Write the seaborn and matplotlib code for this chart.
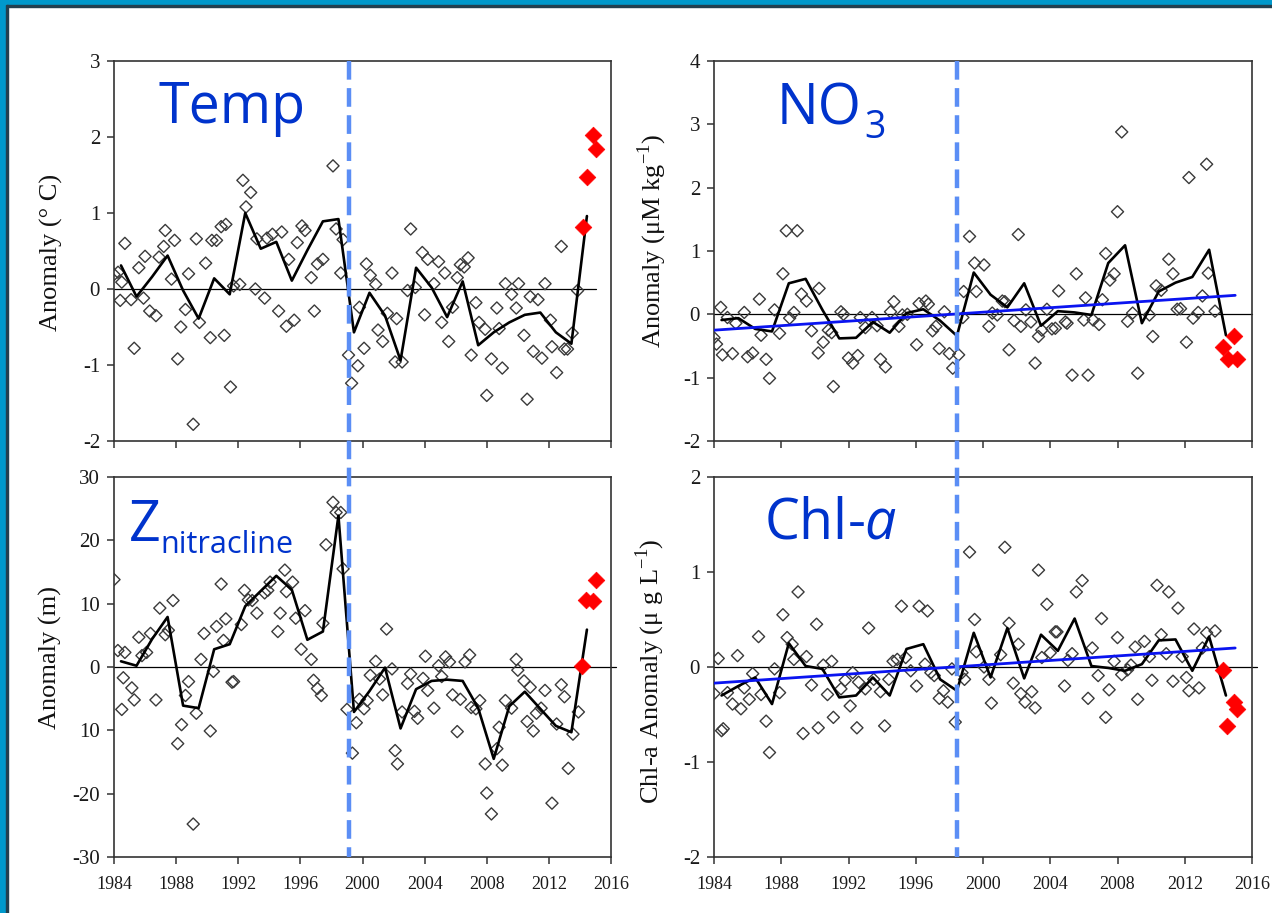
import matplotlib
matplotlib.use("Agg")
import matplotlib.pyplot as plt
import matplotlib.transforms as mtransforms
from matplotlib.lines import Line2D
from matplotlib.patches import Rectangle
import seaborn as sns

# ---------------- data ----------------
years = list(range(1984, 2015))
xticks = list(range(1984, 2017, 4))

# Temperature
temp_annual = [0.31, -0.10, 0.16, 0.44, -0.02, -0.39, 0.14, -0.07, 1.00, 0.53, 0.62, 0.11, 0.51, 0.89, 0.92,
               -0.57, -0.05, -0.35, -0.94, 0.28, 0.02, -0.37, 0.10, -0.74, -0.57, -0.44, -0.34, -0.31, -0.57, -0.72, 0.96]
temp_x = [1984.0, 1984.26, 1984.4, 1984.5, 1984.7, 1985.1, 1985.3, 1985.6, 1985.9, 1986.0,
          1986.3, 1986.7, 1986.9, 1987.2, 1987.3, 1987.7, 1987.9, 1988.1, 1988.3, 1988.6,
          1988.8, 1989.1, 1989.3, 1989.5, 1989.9, 1990.2, 1990.3, 1990.6, 1990.9, 1991.1,
          1991.2, 1991.5, 1991.7, 1992.1, 1992.3, 1992.5, 1992.8, 1993.1, 1993.2, 1993.7,
          1993.85, 1994.2, 1994.6, 1994.8, 1995.1, 1995.25, 1995.6, 1995.8, 1996.1, 1996.3,
          1996.7, 1996.9, 1997.1, 1997.45, 1998.1, 1998.3, 1998.6, 1998.75, 1999.1, 1999.3,
          1999.7, 1999.8, 2000.1, 2000.25, 2000.5, 2000.85, 2001.0, 2001.3, 2001.6, 2001.9,
          2002.1, 2002.2, 2002.55, 2002.9, 2003.1, 2003.4, 2003.85, 2004.0, 2004.2, 2004.6,
          2004.9, 2005.1, 2005.3, 2005.55, 2005.8, 2006.1, 2006.3, 2006.55, 2006.8, 2007.0,
          2007.3, 2007.5, 2007.9, 2008.0, 2008.3, 2008.65, 2008.8, 2009.0, 2009.2, 2009.6,
          2009.9, 2010.05, 2010.4, 2010.6, 2010.8, 2011.0, 2011.3, 2011.55, 2011.75, 2012.1,
          2012.2, 2012.5, 2012.8, 2013.0, 2013.2, 2013.5, 2013.85]
temp_y = [0.19, 0.22, -0.15, 0.09, 0.60, -0.14, -0.78, 0.28, -0.12, 0.43,
          -0.29, -0.35, 0.42, 0.56, 0.77, 0.13, 0.64, -0.92, -0.50, -0.27,
          0.20, -1.78, 0.66, -0.44, 0.34, -0.64, 0.64, 0.64, 0.82, -0.61,
          0.85, -1.29, 0.04, 0.06, 1.43, 1.08, 1.27, 0.00, 0.66, -0.12,
          0.67, 0.72, -0.29, 0.75, -0.49, 0.39, -0.41, 0.61, 0.83, 0.77,
          0.15, -0.29, 0.33, 0.39, 1.62, 0.79, 0.21, 0.65, -0.87, -1.24,
          -1.01, -0.24, -0.78, 0.33, 0.18, 0.06, -0.54, -0.69, -0.32, 0.21,
          -0.96, -0.39, -0.96, -0.02, 0.79, 0.02, 0.48, -0.34, 0.39, 0.07,
          0.36, -0.44, 0.21, -0.69, -0.24, 0.15, 0.32, 0.29, 0.41, -0.87,
          -0.18, -0.44, -0.53, -1.40, -0.92, -0.25, -0.52, -1.04, 0.07, -0.07,
          -0.25, 0.07, -0.61, -1.45, -0.10, -0.82, -0.14, -0.91, 0.07, -0.41,
          -0.76, -1.10, 0.56, -0.79, -0.79, -0.58, -0.02]
temp_red_x = [2014.17, 2014.45, 2014.85, 2015.03]
temp_red_y = [0.81, 1.47, 2.03, 1.84]
temp_yticks = [-2, -1, 0, 1, 2, 3]
temp_yticklabels = ["-2", "-1", "0", "1", "2", "3"]

# Nitrate
no3_annual = [-0.09, -0.06, -0.23, -0.27, 0.49, 0.56, 0.07, -0.38, -0.37, -0.12, -0.29, 0.02, 0.08, -0.10, -0.34,
              0.66, 0.31, 0.11, 0.49, -0.18, 0.05, 0.03, -0.01, 0.81, 1.09, -0.14, 0.36, 0.50, 0.59, 1.02, -0.33]
no3_x = [1984.0, 1984.15, 1984.4, 1984.5, 1984.8, 1985.1, 1985.3, 1985.8, 1986.0, 1986.3,
         1986.7, 1986.8, 1987.1, 1987.3, 1987.6, 1987.9, 1988.1, 1988.3, 1988.5, 1988.75,
         1988.95, 1989.2, 1989.5, 1989.8, 1990.2, 1990.25, 1990.5, 1990.8, 1991.0, 1991.1,
         1991.55, 1991.7, 1992.0, 1992.25, 1992.55, 1992.7, 1993.0, 1993.4, 1993.7, 1993.9,
         1994.2, 1994.5, 1994.7, 1995.0, 1995.2, 1995.5, 1996.05, 1996.2, 1996.6, 1996.75,
         1997.0, 1997.2, 1997.4, 1997.7, 1998.0, 1998.2, 1998.55, 1998.8, 1998.85, 1999.2,
         1999.5, 1999.6, 2000.06, 2000.35, 2000.55, 2000.85, 2001.15, 2001.3, 2001.55, 2001.85,
         2002.1, 2002.25, 2002.55, 2002.85, 2003.1, 2003.3, 2003.5, 2003.8, 2004.1, 2004.3,
         2004.5, 2004.9, 2005.0, 2005.3, 2005.55, 2006.0, 2006.1, 2006.25, 2006.55, 2006.9,
         2007.1, 2007.3, 2007.55, 2007.8, 2008.0, 2008.25, 2008.6, 2008.9, 2009.2, 2009.9,
         2010.1, 2010.3, 2010.6, 2011.05, 2011.3, 2011.55, 2011.75, 2012.1, 2012.25, 2012.5,
         2012.8, 2013.05, 2013.3, 2013.4, 2013.8]
no3_y = [-0.37, -0.47, 0.11, -0.64, -0.05, -0.62, -0.14, 0.03, -0.67, -0.61,
         0.24, -0.33, -0.71, -1.01, 0.07, -0.30, 0.64, 1.32, -0.06, 0.03,
         1.32, 0.32, 0.21, -0.26, -0.61, 0.41, -0.44, -0.25, -0.29, -1.14,
         0.04, 0.00, -0.69, -0.77, -0.65, -0.05, -0.21, -0.05, -0.18, -0.71,
         -0.83, 0.04, 0.20, -0.19, -0.01, 0.00, -0.48, 0.17, 0.21, 0.16,
         -0.26, -0.19, -0.54, 0.04, -0.62, -0.85, -0.64, -0.05, 0.36, 1.23,
         0.81, 0.36, 0.78, -0.19, 0.02, -0.01, 0.21, 0.20, -0.56, -0.10,
         1.26, -0.19, 0.07, -0.12, -0.77, -0.35, -0.25, 0.08, -0.23, -0.22,
         0.37, -0.12, -0.14, -0.96, 0.64, -0.09, 0.26, -0.96, -0.09, -0.16,
         0.23, 0.96, 0.54, 0.64, 1.62, 2.88, -0.11, 0.02, -0.93, -0.01,
         -0.35, 0.45, 0.38, 0.87, 0.64, 0.08, 0.09, -0.44, 2.16, -0.06,
         0.03, 0.29, 2.37, 0.65, 0.05]
no3_red_x = [2014.3, 2014.55, 2014.9, 2015.1]
no3_red_y = [-0.51, -0.71, -0.34, -0.71]
no3_trend_x = [1984.0, 2015.0]
no3_trend_y = [-0.25, 0.30]
no3_yticks = [-2, -1, 0, 1, 2, 3, 4]
no3_yticklabels = ["-2", "-1", "0", "1", "2", "3", "4"]

# Nitracline depth
z_annual = [0.9, 0.2, 4.4, 7.9, -6.1, -6.5, 2.8, 3.6, 9.6, 12.0, 14.4, 12.2, 4.3, 5.6, 23.9,
            -7.1, -3.8, -0.1, -9.7, -3.5, -2.2, -2.0, -2.2, -6.5, -14.5, -6.2, -3.9, -6.6, -9.3, -10.3, 5.9]
z_x = [1984.0, 1984.25, 1984.5, 1984.6, 1984.7, 1985.15, 1985.3, 1985.6, 1985.8, 1986.1,
       1986.35, 1986.7, 1986.95, 1987.3, 1987.5, 1987.8, 1988.1, 1988.35, 1988.6, 1988.8,
       1989.1, 1989.3, 1989.6, 1989.8, 1990.2, 1990.4, 1990.6, 1990.9, 1991.05, 1991.2,
       1991.6, 1991.7, 1992.2, 1992.4, 1992.65, 1992.9, 1993.2, 1993.7, 1993.9, 1994.05,
       1994.55, 1994.7, 1995.0, 1995.1, 1995.5, 1995.7, 1996.05, 1996.3, 1996.7, 1996.85,
       1997.1, 1997.35, 1997.45, 1997.65, 1998.1, 1998.3, 1998.6, 1998.75, 1999.0, 1999.35,
       1999.6, 1999.8, 2000.1, 2000.3, 2000.5, 2000.85, 2001.1, 2001.3, 2001.55, 2001.9,
       2002.1, 2002.25, 2002.55, 2002.9, 2003.1, 2003.35, 2003.55, 2003.9, 2004.05, 2004.2,
       2004.6, 2004.9, 2005.1, 2005.35, 2005.6, 2005.8, 2006.1, 2006.3, 2006.6, 2006.9,
       2007.0, 2007.3, 2007.55, 2007.9, 2008.0, 2008.3, 2008.65, 2008.8, 2009.0, 2009.2,
       2009.6, 2009.9, 2010.0, 2010.4, 2010.6, 2010.8, 2011.0, 2011.2, 2011.5, 2011.75,
       2012.2, 2012.5, 2012.8, 2013.0, 2013.25, 2013.55, 2013.9]
z_y = [13.8, 2.6, -6.7, -1.7, 2.3, -3.3, -5.2, 4.7, 1.8, 2.3,
       5.3, -5.2, 9.3, 5.1, 5.8, 10.5, -12.1, -9.1, -4.5, -2.3,
       -24.8, -7.3, 1.2, 5.3, -10.1, -0.7, 6.4, 13.1, 4.2, 7.6,
       -2.4, -2.3, 6.7, 12.1, 10.6, 10.5, 8.5, 11.7, 12.1, 13.4,
       5.6, 8.5, 15.3, 11.9, 13.4, 7.7, 2.8, 8.9, 1.2, -2.1,
       -3.4, -4.5, 6.9, 19.3, 26.0, 24.4, 24.4, 15.5, -6.7, -13.6,
       -8.8, -5.1, -6.6, -5.3, -1.3, 0.9, -1.9, -4.4, 6.0, -0.3,
       -13.2, -15.3, -7.1, -2.6, -1.1, -7.0, -8.1, -1.8, 1.7, -3.7,
       -6.5, 0.2, -1.5, 1.6, 0.8, -4.4, -10.2, -5.1, 0.8, 1.9,
       -6.4, -6.6, -5.3, -15.3, -19.9, -23.2, -12.9, -9.5, -15.5, -5.3,
       -6.5, 1.2, -0.5, -2.2, -8.6, -3.2, -10.1, -7.3, -6.5, -3.7,
       -21.5, -9.0, -2.8, -4.7, -16.0, -10.6, -7.1]
z_red_x = [2014.15, 2014.4, 2014.85, 2015.05]
z_red_y = [0.1, 10.6, 10.4, 13.8]
z_yticks = [-30, -20, -10, 0, 10, 20, 30]
z_yticklabels = ["-30", "-20", "10", "0", "10", "20", "30"]

# Chlorophyll-a
chl_annual = [-0.30, -0.20, -0.11, -0.39, 0.25, 0.01, -0.02, -0.32, -0.30, -0.11, -0.30, 0.19, 0.24, -0.13, -0.25,
              0.36, -0.11, 0.41, -0.12, 0.34, 0.17, 0.51, 0.01, -0.01, -0.04, 0.03, 0.28, 0.29, -0.04, 0.32, -0.30]
chl_x = [1984.0, 1984.25, 1984.45, 1984.55, 1984.8, 1985.1, 1985.4, 1985.6, 1985.8, 1986.1,
         1986.3, 1986.65, 1986.8, 1987.1, 1987.3, 1987.6, 1987.9, 1988.1, 1988.35, 1988.65,
         1988.75, 1989.0, 1989.3, 1989.5, 1989.8, 1990.1, 1990.2, 1990.5, 1990.75, 1991.0,
         1991.1, 1991.55, 1991.8, 1992.1, 1992.25, 1992.5, 1992.6, 1993.0, 1993.2, 1993.5,
         1993.9, 1994.15, 1994.4, 1994.65, 1994.9, 1995.15, 1995.4, 1995.7, 1996.05, 1996.2,
         1996.55, 1996.7, 1996.9, 1997.1, 1997.4, 1997.65, 1997.9, 1998.15, 1998.35, 1998.75,
         1998.9, 1999.2, 1999.5, 1999.6, 2000.06, 2000.35, 2000.5, 2001.05, 2001.3, 2001.55,
         2001.8, 2002.1, 2002.25, 2002.5, 2002.9, 2003.1, 2003.3, 2003.5, 2003.8, 2004.0,
         2004.3, 2004.4, 2004.85, 2005.05, 2005.3, 2005.55, 2005.9, 2006.25, 2006.5, 2006.85,
         2007.05, 2007.3, 2007.5, 2007.8, 2008.0, 2008.25, 2008.6, 2008.8, 2009.05, 2009.2,
         2009.6, 2009.9, 2010.05, 2010.35, 2010.6, 2010.9, 2011.05, 2011.3, 2011.6, 2011.85,
         2012.1, 2012.25, 2012.55, 2012.85, 2013.05, 2013.3, 2013.8]
chl_y = [-0.28, 0.09, -0.67, -0.65, -0.27, -0.39, 0.12, -0.44, -0.22, -0.34,
         -0.07, 0.32, -0.29, -0.57, -0.90, -0.02, -0.27, 0.55, 0.31, 0.24,
         0.08, 0.79, -0.70, 0.11, -0.19, 0.45, -0.64, 0.02, -0.29, 0.06,
         -0.53, -0.23, -0.14, -0.41, -0.06, -0.64, -0.16, -0.23, 0.41, -0.13,
         -0.26, -0.62, -0.13, 0.06, 0.08, 0.64, 0.10, -0.04, -0.20, 0.64,
         0.03, 0.59, -0.06, -0.09, -0.33, -0.25, -0.37, -0.02, -0.58, -0.06,
         -0.13, 1.21, 0.50, 0.16, 0.00, -0.13, -0.38, 0.13, 1.26, 0.46,
         -0.17, 0.24, -0.28, -0.37, -0.26, -0.43, 1.02, 0.10, 0.66, 0.15,
         0.37, 0.37, -0.20, 0.07, 0.14, 0.79, 0.91, -0.33, 0.20, -0.09,
         0.51, -0.53, -0.24, 0.06, 0.31, -0.08, -0.03, 0.02, 0.21, -0.34,
         0.27, 0.11, -0.14, 0.86, 0.34, 0.14, 0.79, -0.15, 0.62, 0.11,
         -0.11, -0.25, 0.40, -0.22, 0.20, 0.36, 0.38]
chl_red_x = [2014.3, 2014.5, 2014.9, 2015.1]
chl_red_y = [-0.03, -0.62, -0.37, -0.44]
chl_trend_x = [1984.0, 2015.0]
chl_trend_y = [-0.17, 0.20]
chl_yticks = [-2, -1, 0, 1, 2]
chl_yticklabels = ["-2", "-1", "0", "1", "2"]

# regime shift year (vertical dashed line) for each column
shift_left = 1999.15
shift_right = 1998.45

# ---------------- style ----------------
sns.set_style("ticks")
plt.rcParams["font.family"] = ["Liberation Serif", "DejaVu Serif"]
plt.rcParams["axes.unicode_minus"] = False
plt.rcParams["mathtext.fontset"] = "custom"
plt.rcParams["mathtext.rm"] = "Open Sans"
plt.rcParams["mathtext.it"] = "Open Sans:italic"

W, H = 1272, 913
fig = plt.figure(figsize=(W / 100, H / 100), dpi=100)
fig.patch.set_facecolor("white")

# slide frame
fig.patches.append(Rectangle((0, 1 - 5.5 / H), 1, 5.5 / H, transform=fig.transFigure,
                             color="#0099CC", zorder=0))
fig.patches.append(Rectangle((0, 1 - 7 / H), 1, 1.5 / H, transform=fig.transFigure,
                             color="#23404F", zorder=0))
fig.patches.append(Rectangle((0, 0), 6 / W, 1, transform=fig.transFigure,
                             color="#0099CC", zorder=0))
fig.patches.append(Rectangle((6 / W, 0), 1.5 / W, 1 - 5.5 / H, transform=fig.transFigure,
                             color="#23404F", zorder=0))


def rect(l, t, r, b):
    return [l / W, 1 - b / H, (r - l) / W, (b - t) / H]


ann_x = [y + 0.45 for y in years]

TITLE_FONT = ["Open Sans", "DejaVu Sans"]

panels = [
    dict(rect=rect(114, 61, 611, 441), annual=temp_annual, sx=temp_x, sy=temp_y,
         rx=temp_red_x, ry=temp_red_y, trend=None, ylim=(-2, 3),
         yticks=temp_yticks, ylabels=temp_yticklabels, xlabels=False,
         ylabel="Anomaly (° C)", lab_xy=(-0.103, 0.495),
         title=[("Temp", 0.09, 0.837, 40)], zero_xmax=0.97),
    dict(rect=rect(714, 61, 1252, 441), annual=no3_annual, sx=no3_x, sy=no3_y,
         rx=no3_red_x, ry=no3_red_y, trend=(no3_trend_x, no3_trend_y), ylim=(-2, 4),
         yticks=no3_yticks, ylabels=no3_yticklabels, xlabels=False,
         ylabel="Anomaly (μM kg$^{\\mathregular{-1}}$)", lab_xy=(-0.084, 0.526),
         title=[("NO", 0.117, 0.834, 40), ("3", 0.280, 0.798, 27)],
         zero_xmax=1.0),
    dict(rect=rect(114, 477, 611, 857), annual=z_annual, sx=z_x, sy=z_y,
         rx=z_red_x, ry=z_red_y, trend=None, ylim=(-30, 30),
         yticks=z_yticks, ylabels=z_yticklabels, xlabels=True,
         ylabel="Anomaly (m)", lab_xy=(-0.105, 0.526),
         title=[("Z", 0.030, 0.832, 40), ("nitracline", 0.094, 0.800, 22)],
         zero_xmax=1.01),
    dict(rect=rect(714, 477, 1252, 857), annual=chl_annual, sx=chl_x, sy=chl_y,
         rx=chl_red_x, ry=chl_red_y, trend=(chl_trend_x, chl_trend_y), ylim=(-2, 2),
         yticks=chl_yticks, ylabels=chl_yticklabels, xlabels=True,
         ylabel="Chl-a Anomaly (μ g L$^{\\mathregular{-1}}$)", lab_xy=(-0.087, 0.49),
         title=[("Chl-$\\mathit{a}$", 0.093, 0.839, 40)], zero_xmax=1.01),
]

axes = []
for p in panels:
    ax = fig.add_axes(p["rect"])
    axes.append(ax)
    ax.axhline(0, xmin=0, xmax=p["zero_xmax"], color="black", lw=0.9, zorder=1, clip_on=False)
    sns.scatterplot(x=p["sx"], y=p["sy"], ax=ax, marker="D", s=38,
                    edgecolor="#3a3a3a", linewidth=1.0, zorder=2)
    ax.collections[-1].set_facecolor("none")
    sns.lineplot(x=ann_x, y=p["annual"], ax=ax, color="black", lw=1.9,
                 estimator=None, sort=False, zorder=3)
    if p["trend"] is not None:
        sns.lineplot(x=p["trend"][0], y=p["trend"][1], ax=ax, color="#0A14F0", lw=2.0,
                     estimator=None, sort=False, zorder=4)
    sns.scatterplot(x=p["rx"], y=p["ry"], ax=ax, marker="D", s=72,
                    color="#FF0000", edgecolor="#FF0000", linewidth=0.5, zorder=5)
    ax.set_xlim(1984, 2016)
    ax.set_ylim(*p["ylim"])
    ax.set_xticks(xticks)
    ax.set_xticklabels([str(t) for t in xticks])
    ax.set_yticks(p["yticks"])
    ax.set_yticklabels(p["ylabels"])
    ax.tick_params(axis="both", direction="out", length=5, width=1.1, color="#333333",
                   labelcolor="#1a1a1a")
    ax.tick_params(axis="y", labelsize=15, pad=5)
    ax.tick_params(axis="x", labelsize=13, pad=9, labelbottom=p["xlabels"])
    for s in ax.spines.values():
        s.set_visible(True)
        s.set_color("#333333")
        s.set_linewidth(1.2)
    ax.set_xlabel("")
    ax.set_ylabel(p["ylabel"], fontsize=19, color="#111111")
    ax.yaxis.set_label_coords(*p["lab_xy"])
    for txt, tx, ty, fs in p["title"]:
        ax.text(tx, ty, txt, transform=ax.transAxes, fontsize=fs, color="#0033CC",
                family=TITLE_FONT, ha="left", va="baseline", zorder=6)
    ax.set_facecolor("white")

# vertical dashed regime-shift lines spanning both rows
y_top = 1 - 61 / H
y_bot = 1 - 857 / H
for ax_ref, xs in ((axes[0], shift_left), (axes[1], shift_right)):
    tr = mtransforms.blended_transform_factory(ax_ref.transData, fig.transFigure)
    fig.lines.append(Line2D([xs, xs], [y_top, y_bot], transform=tr, color="#5B8EF5",
                            lw=3.2, linestyle=(0, (4.2, 1.9)), zorder=10))

fig.savefig("out.png", dpi=100, facecolor="white")
